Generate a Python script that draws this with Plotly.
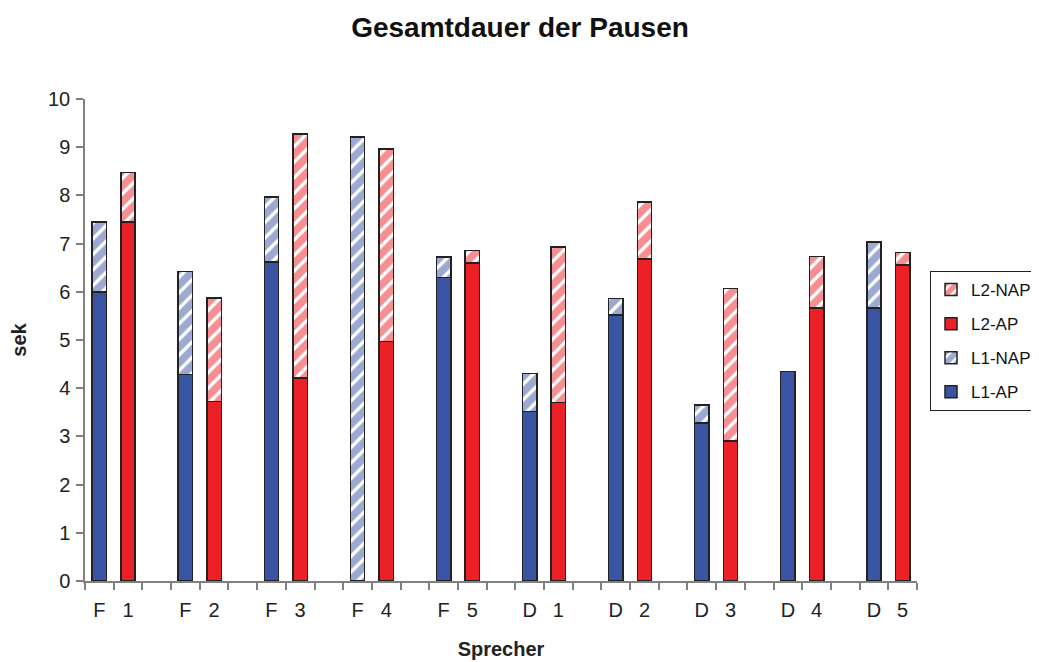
import plotly.graph_objects as go

# Data
groups = ["F 1", "F 2", "F 3", "F 4", "F 5", "D 1", "D 2", "D 3", "D 4", "D 5"]
tick_labels = ["F", "1", "", "F", "2", "", "F", "3", "", "F", "4", "", "F", "5", "",
               "D", "1", "", "D", "2", "", "D", "3", "", "D", "4", "", "D", "5"]
L1_AP = [6.00, 4.28, 6.62, None, 6.30, 3.52, 5.52, 3.28, 4.35, 5.66]
L1_NAP = [1.45, 2.14, 1.35, 9.21, 0.42, 0.79, 0.34, 0.37, None, 1.37]
L2_AP = [7.45, 3.72, 4.21, 4.97, 6.60, 3.70, 6.68, 2.90, 5.66, 6.56]
L2_NAP = [1.03, 2.15, 5.06, 3.99, 0.26, 3.23, 1.18, 3.17, 1.07, 0.26]

x_L1 = [3 * i for i in range(len(groups))]
x_L2 = [3 * i + 1 for i in range(len(groups))]

BLUE = "#3a54a4"
RED = "#ec2027"
FONT = "Arial, Liberation Sans, sans-serif"

line = dict(color="#222222", width=1.5)

fig = go.Figure()
fig.add_trace(go.Bar(x=x_L1, y=L1_AP, name="L1-AP", legendgroup="a", legendrank=4,
                     marker=dict(color=BLUE, line=line)))
fig.add_trace(go.Bar(x=x_L1, y=L1_NAP, name="L1-NAP", legendgroup="b", legendrank=3,
                     marker=dict(color="white", line=line,
                                 pattern=dict(shape="/", fgcolor=BLUE, bgcolor="white",
                                              size=11, solidity=0.7))))
fig.add_trace(go.Bar(x=x_L2, y=L2_AP, name="L2-AP", legendgroup="c", legendrank=2,
                     marker=dict(color=RED, line=line)))
fig.add_trace(go.Bar(x=x_L2, y=L2_NAP, name="L2-NAP", legendgroup="d", legendrank=1,
                     marker=dict(color="white", line=line,
                                 pattern=dict(shape="/", fgcolor=RED, bgcolor="white",
                                              size=11, solidity=0.7))))

fig.update_layout(
    barmode="stack",
    bargap=0.5,
    width=1031, height=654,
    margin=dict(l=77, r=122, t=91, b=81, autoexpand=False),
    paper_bgcolor="white", plot_bgcolor="white",
    font=dict(family=FONT, size=20, color="#222222"),
    title=dict(text="<b>Gesamtdauer der Pausen</b>", x=(520 - 85) / 832, xref="paper",
               xanchor="center",
               y=1 - 19 / 654, yanchor="middle",
               font=dict(size=28, color="#111111")),
    showlegend=True,
    legend=dict(x=(930 - 85) / 832, xanchor="left", y=(581 - 271) / 482, yanchor="top",
                bordercolor="#222222", borderwidth=1,
                tracegroupgap=9,
                font=dict(size=17, color="#111111")),
    xaxis=dict(
        range=[-0.5, 28.5],
        tickmode="array",
        tickvals=list(range(len(tick_labels))),
        ticktext=tick_labels,
        ticks="",
        showline=True, linecolor="#808080", linewidth=1.5,
        showgrid=False, zeroline=False,
        minor=dict(tick0=-0.5, dtick=1, ticks="outside", ticklen=7,
                   tickcolor="#808080", tickwidth=1.5, showgrid=False),
        ticklabelstandoff=10,
        title=dict(text="<b>Sprecher</b>", font=dict(size=20), standoff=22),
    ),
    yaxis=dict(
        range=[0, 10], dtick=1,
        ticks="outside", ticklen=7, tickcolor="#808080", tickwidth=1.5,
        showline=True, linecolor="#808080", linewidth=1.5,
        showgrid=False, zeroline=False,
        ticklabelstandoff=2,
        title=dict(text="<b>sek</b>", font=dict(size=20), standoff=16),
    ),
)

fig.write_html("out.html")
